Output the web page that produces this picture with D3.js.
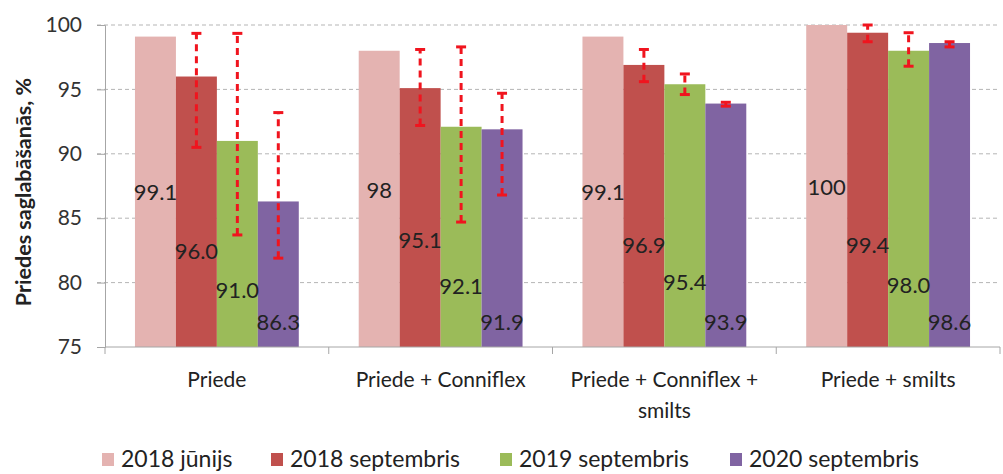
<!DOCTYPE html>
<html><head><meta charset="utf-8">
<script src="https://cdn.jsdelivr.net/npm/d3@7"></script>
<style>body{margin:0;background:#fff}svg{display:block}text{font-family:Lato,"Open Sans",sans-serif}</style>
</head><body><svg id="c" width="1003" height="474"></svg>
<script>
const categories = [["Priede"],["Priede + Conniflex"],["Priede + Conniflex +","smilts"],["Priede + smilts"]];
const seriesNames = ["2018 jūnijs","2018 septembris","2019 septembris","2020 septembris"];
const jun2018 = [99.1, 98, 99.1, 100];
const sep2018 = [96.0, 95.1, 96.9, 99.4];
const sep2019 = [91.0, 92.1, 95.4, 98.0];
const sep2020 = [86.3, 91.9, 93.9, 98.6];
const labels2018jun = ["99.1","98","99.1","100"];
const labels2018sep = ["96.0","95.1","96.9","99.4"];
const labels2019sep = ["91.0","92.1","95.4","98.0"];
const labels2020sep = ["86.3","91.9","93.9","98.6"];
// error bar ranges (low, high)
const errSep2018 = [[90.5,99.35],[92.2,98.1],[95.6,98.1],[98.7,100]];
const errSep2019 = [[83.7,99.35],[84.7,98.3],[94.6,96.2],[96.8,99.4]];
const errSep2020 = [[81.9,93.2],[86.8,94.7],[93.7,94.0],[98.3,98.7]];
const yTicks = [75,80,85,90,95,100];

const series = [jun2018, sep2018, sep2019, sep2020];
const seriesLabels = [labels2018jun, labels2018sep, labels2019sep, labels2020sep];
const errs = [null, errSep2018, errSep2019, errSep2020];
const colors = ["#E4B3B1","#C0504D","#9BBB59","#8064A2"];
// manual label placement of the original (in axis units)
const labelLevel = [[87.0,87.2,87.0,87.4],[82.4,83.3,82.9,82.9],[79.4,79.7,80.05,79.8],[76.95,76.95,76.9,76.9]];

const svg = d3.select("#c");
const m = {l:105, r:1000, t:25, b:347};
const x0 = d3.scaleBand().domain(d3.range(categories.length)).range([m.l, m.r]);
const inner = 164/224;
const x1 = d3.scaleBand().domain(d3.range(series.length)).range([0, x0.bandwidth()*inner]);
const off = x0.bandwidth()*(1-inner)/2;
const y = d3.scaleLinear().domain([75,100]).range([m.b, m.t]);

// gridlines
svg.append("g").selectAll("line").data(yTicks.filter(t=>t>75)).join("line")
  .attr("x1", m.l-8).attr("x2", m.r).attr("y1", d=>y(d)).attr("y2", d=>y(d))
  .attr("stroke","#b5b5b5").attr("stroke-width",1).attr("stroke-dasharray","4,3");
// y axis
const ya = d3.axisLeft(y).tickValues(yTicks).tickSize(8).tickPadding(15);
const gy = svg.append("g").attr("transform",`translate(${m.l},0)`).call(ya);
gy.select(".domain").attr("stroke","#a6a6a6");
gy.selectAll(".tick line").attr("stroke","#a6a6a6");
gy.selectAll(".tick text").attr("font-size",21).attr("fill","#333").attr("font-family","Lato,sans-serif");

// bars
series.forEach((s,si)=>{
  svg.append("g").selectAll("rect").data(s).join("rect")
    .attr("x",(d,i)=>x0(i)+off+x1(si)).attr("width",x1.bandwidth())
    .attr("y",d=>y(d)).attr("height",d=>y(75)-y(d)).attr("fill",colors[si]);
});
// x axis
svg.append("line").attr("x1",m.l).attr("x2",m.r).attr("y1",y(75)).attr("y2",y(75)).attr("stroke","#a6a6a6");
svg.append("g").selectAll("line").data(d3.range(0,categories.length+1)).join("line")
  .attr("x1",i=>x0.step()*i+m.l).attr("x2",i=>x0.step()*i+m.l).attr("y1",y(75)).attr("y2",y(75)+7).attr("stroke","#a6a6a6");

// error bars
errs.forEach((e,si)=>{
  if(!e) return;
  e.forEach((r,i)=>{
    const cx = x0(i)+off+x1(si)+x1.bandwidth()/2;
    const g = svg.append("g");
    g.append("line").attr("x1",cx).attr("x2",cx).attr("y1",y(r[0])).attr("y2",y(r[1]))
      .attr("stroke","#F0141E").attr("stroke-width",3).attr("stroke-dasharray","7,5");
    [r[0],r[1]].forEach(v=>g.append("line").attr("x1",cx-5).attr("x2",cx+5).attr("y1",y(v)).attr("y2",y(v))
      .attr("stroke","#F0141E").attr("stroke-width",3));
  });
});

// data labels
seriesLabels.forEach((L,si)=>{
  svg.append("g").selectAll("text").data(L).join("text")
    .attr("x",(d,i)=>x0(i)+off+x1(si)+x1.bandwidth()/2).attr("y",(d,i)=>y(labelLevel[si][i]))
    .attr("dy","0.35em").attr("text-anchor","middle").attr("font-size",22).attr("fill","#222").text(d=>d);
});

// category labels
categories.forEach((c,i)=>{
  const t = svg.append("text").attr("x",x0(i)+x0.bandwidth()/2).attr("y",387)
    .attr("text-anchor","middle").attr("font-size",21).attr("fill","#222");
  c.forEach((line,li)=>t.append("tspan").attr("x",x0(i)+x0.bandwidth()/2).attr("dy",li?31:0).text(line));
});

// y title
svg.append("text").attr("transform","translate(23,192) rotate(-90)").attr("text-anchor","middle")
  .attr("dy","0.35em").attr("font-size",21.5).attr("font-weight","bold").attr("fill","#222").text("Priedes saglabāšanās, %");

// legend
const legX = [102,271,500,730];
const lg = svg.append("g");
seriesNames.forEach((n,i)=>{
  lg.append("rect").attr("x",legX[i]).attr("y",453).attr("width",12).attr("height",13).attr("fill",colors[i]);
  lg.append("text").attr("x",legX[i]+19).attr("y",467).attr("font-size",23).attr("fill","#222").text(n);
});
</script></body></html>
